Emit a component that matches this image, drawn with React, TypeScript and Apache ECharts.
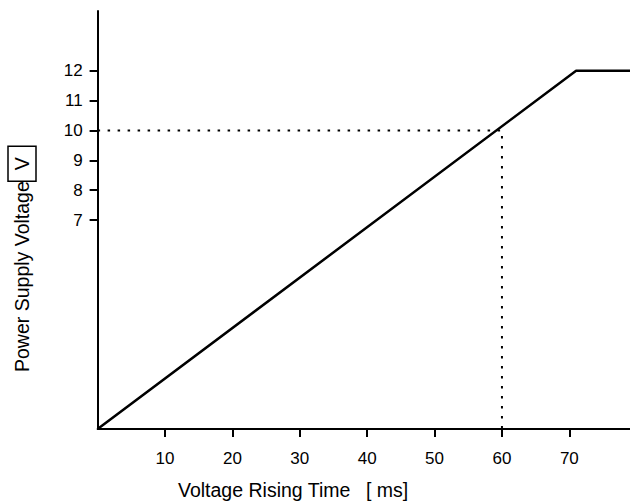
import React, { useEffect, useRef } from "react";
import * as echarts from "echarts";

const xTicks = [10, 20, 30, 40, 50, 60, 70];
const yTicks = [7, 8, 9, 10, 11, 12];
const xRange = [0, 79];
const yRange = [0, 14];
const curve: [number, number][] = [
  [0, 0],
  [71, 12],
  [79, 12],
];
const guide: [number, number][] = [
  [0, 10],
  [60, 10],
  [60, 0],
];
const xName = "Voltage Rising Time";
const xUnit = "[ ms]";
const yName = "Power Supply Voltage";
const yUnit = "V";

const FONT = "Liberation Sans, Arial, sans-serif";
const W = 630;
const H = 504;
const G = { left: 97.6, right: 0, top: 11, bottom: 75 };

export default function App() {
  const ref = useRef<HTMLDivElement>(null);
  useEffect(() => {
    if (!ref.current) return;
    const chart = echarts.init(ref.current, undefined, { renderer: "svg" });

    // tick-only grids, sized so their value ranges coincide with the main grid's scale
    const sx = (W - G.left - G.right) / (xRange[1] - xRange[0]);
    const sy = (H - G.top - G.bottom) / (yRange[1] - yRange[0]);
    const xt0 = Math.min(...xTicks);
    const xt1 = Math.max(...xTicks);
    const yt0 = Math.min(...yTicks);
    const yt1 = Math.max(...yTicks);
    const gridX = {
      left: G.left + (xt0 - xRange[0]) * sx,
      right: G.right + (xRange[1] - xt1) * sx,
      top: G.top,
      bottom: G.bottom,
    };
    const gridY = {
      left: G.left,
      right: G.right,
      top: G.top + (yRange[1] - yt1) * sy,
      bottom: G.bottom + (yt0 - yRange[0]) * sy,
    };

    const tick = {
      show: true,
      inside: false,
      length: 8,
      lineStyle: { color: "#000", width: 2 },
    };

    chart.setOption({
      animation: false,
      grid: [G, gridX, gridY],
      xAxis: [
        {
          gridIndex: 0,
          type: "value",
          min: xRange[0],
          max: xRange[1],
          splitLine: { show: false },
          axisLine: { lineStyle: { color: "#000", width: 2 } },
          axisTick: { show: false },
          axisLabel: { show: false },
        },
        {
          gridIndex: 1,
          type: "value",
          min: xt0,
          max: xt1,
          interval: 10,
          position: "bottom",
          splitLine: { show: false },
          axisLine: { show: false },
          axisTick: tick,
          axisLabel: {
            color: "#000",
            fontSize: 17,
            fontFamily: FONT,
            margin: 21,
          },
        },
        {
          gridIndex: 2,
          type: "value",
          min: 0,
          max: 1,
          show: false,
        },
      ],
      yAxis: [
        {
          gridIndex: 0,
          type: "value",
          min: yRange[0],
          max: yRange[1],
          splitLine: { show: false },
          axisLine: { lineStyle: { color: "#000", width: 2 } },
          axisTick: { show: false },
          axisLabel: { show: false },
        },
        {
          gridIndex: 1,
          type: "value",
          min: 0,
          max: 1,
          show: false,
        },
        {
          gridIndex: 2,
          type: "value",
          min: yt0,
          max: yt1,
          interval: 1,
          position: "left",
          splitLine: { show: false },
          axisLine: { show: false },
          axisTick: tick,
          axisLabel: {
            color: "#000",
            fontSize: 17,
            fontFamily: FONT,
            margin: 15,
            padding: [7, 0, 0, 0],
          },
        },
      ],
      series: [
        {
          type: "line",
          xAxisIndex: 0,
          yAxisIndex: 0,
          data: curve,
          symbol: "none",
          lineStyle: { color: "#000", width: 2.5 },
        },
        {
          type: "line",
          xAxisIndex: 0,
          yAxisIndex: 0,
          data: guide,
          symbol: "none",
          lineStyle: { color: "#000", width: 2, type: [2.5, 7.5] },
        },
      ],
      graphic: [
        {
          type: "text",
          left: 178,
          top: 480,
          style: { text: xName, font: `19.5px ${FONT}`, fill: "#000" },
        },
        {
          type: "text",
          left: 366,
          top: 480,
          style: { text: xUnit, font: `19.5px ${FONT}`, fill: "#000" },
        },
        {
          type: "text",
          x: 22,
          y: 372,
          rotation: Math.PI / 2,
          style: {
            text: `{a|${yName}}{b|${yUnit}}`,
            textAlign: "left",
            textVerticalAlign: "middle",
            fill: "#000",
            font: `19.5px ${FONT}`,
            rich: {
              a: { fontSize: 19.5, fontFamily: FONT, color: "#000" },
              b: {
                fontSize: 19.5,
                fontFamily: FONT,
                color: "#000",
                borderColor: "#000",
                borderWidth: 1.5,
                padding: [4, 11, 4, 11],
              },
            },
          },
        },
      ],
    });
    return () => chart.dispose();
  }, []);
  return (
    <div
      ref={ref}
      style={{ position: "absolute", left: 0, top: 0, width: W, height: H }}
    />
  );
}
